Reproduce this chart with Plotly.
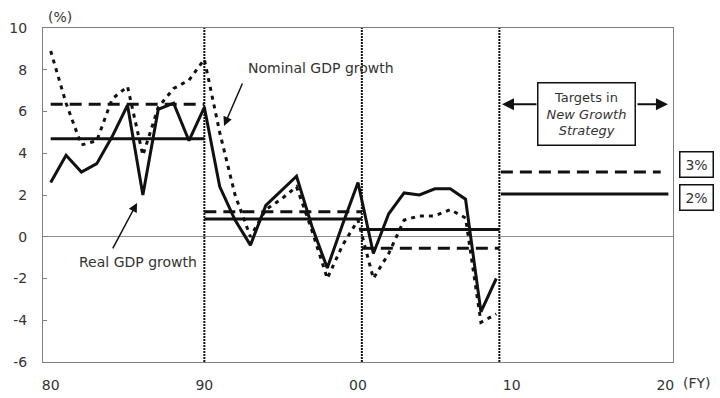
import plotly.graph_objects as go

years = list(range(1980, 2010))
real_gdp = [2.6, 3.9, 3.1, 3.5, 4.8, 6.3, 2.0, 6.1, 6.4, 4.6,
            6.2, 2.4, 0.8, -0.4, 1.5, 2.2, 2.9, 0.5, -1.5, 0.6,
            2.6, -0.8, 1.1, 2.1, 2.0, 2.3, 2.3, 1.8, -3.6, -2.0]
nominal_gdp = [8.9, 6.4, 4.4, 4.6, 6.6, 7.2, 3.9, 6.2, 7.1, 7.5,
               8.5, 5.0, 2.0, 0.0, 1.3, 1.8, 2.4, 0.3, -2.0, -0.4,
               0.8, -2.0, -0.8, 0.8, 1.0, 1.0, 1.3, 0.9, -4.1, -3.7]

# decade averages (80s, 90s, 00s) and New Growth Strategy targets
period_bounds = [1980, 1990, 2000.25, 2009.2]
real_avg = [4.7, 0.85, 0.35]
nominal_avg = [6.35, 1.2, -0.55]
real_target = 2.05
nominal_target = 3.1
target_labels = ["3%", "2%"]

xtick_vals = [1980, 1990, 2000, 2010, 2020]
xtick_text = ["80", "90", "00", "10", "20"]
ytick_vals = [-6, -4, -2, 0, 2, 4, 6, 8, 10]
ytick_text = ["-6", "-4", "-2", "0", "2", "4", "6", "8", "10"]

FONT = "DejaVu Sans"
TXT = "#333333"
INK = "#111111"

fig = go.Figure()

# decade average lines
for i in range(3):
    x0, x1 = period_bounds[i], period_bounds[i + 1]
    fig.add_trace(go.Scatter(x=[x0, x1], y=[nominal_avg[i]] * 2, mode="lines",
                             line=dict(color=INK, width=3, dash="12px,7px"),
                             showlegend=False, hoverinfo="skip"))
    fig.add_trace(go.Scatter(x=[x0, x1], y=[real_avg[i]] * 2, mode="lines",
                             line=dict(color=INK, width=3),
                             showlegend=False, hoverinfo="skip"))

# targets
fig.add_trace(go.Scatter(x=[2009.3, 2019.7], y=[nominal_target] * 2, mode="lines",
                         line=dict(color=INK, width=3, dash="12px,7px"),
                         showlegend=False, hoverinfo="skip"))
fig.add_trace(go.Scatter(x=[2009.3, 2020.2], y=[real_target] * 2, mode="lines",
                         line=dict(color=INK, width=3),
                         showlegend=False, hoverinfo="skip"))

# series
fig.add_trace(go.Scatter(x=years, y=nominal_gdp, mode="lines",
                         line=dict(color=INK, width=3, dash="4px,5px"),
                         name="Nominal GDP growth", showlegend=False))
fig.add_trace(go.Scatter(x=years, y=real_gdp, mode="lines",
                         line=dict(color=INK, width=3),
                         name="Real GDP growth", showlegend=False))

# vertical dotted separators
for xv in period_bounds[1:]:
    fig.add_shape(type="line", x0=xv, x1=xv, y0=-6, y1=10, xref="x", yref="y",
                  line=dict(color=INK, width=2, dash="2px,1px"))

anns = []
# Nominal label + arrow
anns.append(dict(x=1997.6, y=8.07, xref="x", yref="y", text="Nominal GDP growth",
                 showarrow=False, font=dict(family=FONT, size=14, color=TXT)))
anns.append(dict(x=1991.28, y=5.31, ax=1992.52, ay=7.41, xref="x", yref="y",
                 axref="x", ayref="y", text="", showarrow=True, arrowhead=2,
                 arrowsize=1.2, arrowwidth=1.5, arrowcolor=INK))
# Real label + arrow
anns.append(dict(x=1985.7, y=-1.2, xref="x", yref="y", text="Real GDP growth",
                 showarrow=False, font=dict(family=FONT, size=14, color=TXT)))
anns.append(dict(x=1985.62, y=1.62, ax=1983.99, ay=-0.63, xref="x", yref="y",
                 axref="x", ayref="y", text="", showarrow=True, arrowhead=2,
                 arrowsize=1.2, arrowwidth=1.5, arrowcolor=INK))
# Targets box
anns.append(dict(x=2014.9, y=5.86, xref="x", yref="y",
                 text="Targets in<br><i>New Growth</i><br><i>Strategy</i>",
                 showarrow=False, align="center", width=92, height=57,
                 bordercolor=INK, borderwidth=1.5, borderpad=2, bgcolor="white",
                 font=dict(family=FONT, size=13, color=TXT)))
anns.append(dict(x=2009.37, y=6.35, ax=2011.71, ay=6.35, xref="x", yref="y",
                 axref="x", ayref="y", text="", showarrow=True, arrowhead=2,
                 arrowsize=1.2, arrowwidth=2, arrowcolor=INK))
anns.append(dict(x=2020.17, y=6.35, ax=2018.09, ay=6.35, xref="x", yref="y",
                 axref="x", ayref="y", text="", showarrow=True, arrowhead=2,
                 arrowsize=1.2, arrowwidth=2, arrowcolor=INK))
# 3% / 2% boxes
for lab, yv in zip(target_labels, [3.44, 1.90]):
    anns.append(dict(x=1.038, y=yv, xref="paper", yref="y", text=lab,
                     xanchor="center", yanchor="middle",
                     showarrow=False, width=28, height=20, bordercolor=INK,
                     borderwidth=1.5, borderpad=2, bgcolor="white",
                     font=dict(family=FONT, size=14, color=TXT)))
# units
anns.append(dict(x=0.027, y=1.033, xref="paper", yref="paper", text="(%)",
                 xanchor="center", yanchor="middle",
                 showarrow=False, font=dict(family=FONT, size=14, color=TXT)))
anns.append(dict(x=1.038, y=-0.063, xref="paper", yref="paper", text="(FY)",
                 xanchor="center", yanchor="middle",
                 showarrow=False, font=dict(family=FONT, size=14, color=TXT)))

fig.update_layout(
    width=720, height=398,
    margin=dict(l=43, r=47, t=28, b=36, autoexpand=False),
    paper_bgcolor="white", plot_bgcolor="white",
    annotations=anns,
    font=dict(family=FONT, size=14, color=TXT),
    xaxis=dict(range=[1979.5, 2020.5], tickvals=xtick_vals, ticktext=xtick_text,
               showgrid=False, zeroline=False, showline=True, mirror=True,
               linecolor="#808080", linewidth=1, ticks="", ticklabelstandoff=10,
               automargin=False,
               tickfont=dict(family=FONT, size=14, color=TXT)),
    yaxis=dict(range=[-6, 10], tickvals=ytick_vals, ticktext=ytick_text,
               showgrid=False,
               zeroline=True, zerolinecolor="#909090", zerolinewidth=1,
               showline=True, mirror=True, linecolor="#808080", linewidth=1,
               ticks="inside", ticklen=4, tickcolor="#808080",
               ticklabelstandoff=12, automargin=False,
               tickfont=dict(family=FONT, size=14, color=TXT)),
)

fig.write_html("out.html", config={"displayModeBar": False},
               post_script="document.body.style.margin='0';document.body.style.overflow='hidden';")
